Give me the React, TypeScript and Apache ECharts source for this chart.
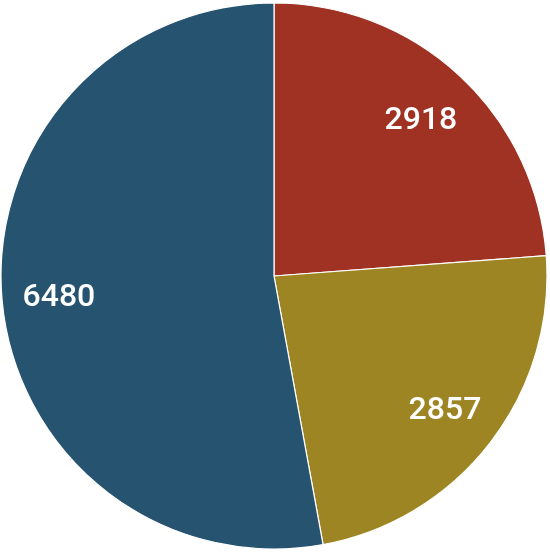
import React, { useEffect, useRef } from "react";
import * as echarts from "echarts";

const categories = ["A", "B", "C"];
const values = [2918, 2857, 6480];
const colors = ["#9f3222", "#9d8524", "#26536f"];

export default function App() {
  const ref = useRef<HTMLDivElement>(null);
  useEffect(() => {
    if (!ref.current) return;
    const chart = echarts.init(ref.current, undefined, { renderer: "svg" });
    const data = categories.map((c, i) => ({
      name: c,
      value: values[i],
      itemStyle: { color: colors[i] },
    }));
    chart.setOption({
      animation: false,
      series: [
        {
          type: "pie",
          center: [274, 276],
          radius: [0, 273],
          startAngle: 90,
          clockwise: true,
          data,
          label: { show: false },
          labelLine: { show: false },
          itemStyle: { borderColor: "#ffffff", borderWidth: 1.2 },
          silent: true,
        },
        {
          type: "pie",
          center: [274, 276],
          radius: [153, 273],
          startAngle: 90,
          clockwise: true,
          data: data.map((d) => ({ ...d, itemStyle: { color: "transparent" } })),
          itemStyle: { borderWidth: 0 },
          label: {
            show: true,
            position: "inside",
            formatter: "{c}",
            color: "#ffffff",
            fontFamily: "Roboto",
            fontWeight: 500,
            fontSize: 32,
          },
          labelLine: { show: false },
          silent: true,
        },
      ],
    });
    return () => chart.dispose();
  }, []);
  return (
    <div
      ref={ref}
      style={{ position: "fixed", left: 0, top: 0, width: 550, height: 552 }}
    />
  );
}
